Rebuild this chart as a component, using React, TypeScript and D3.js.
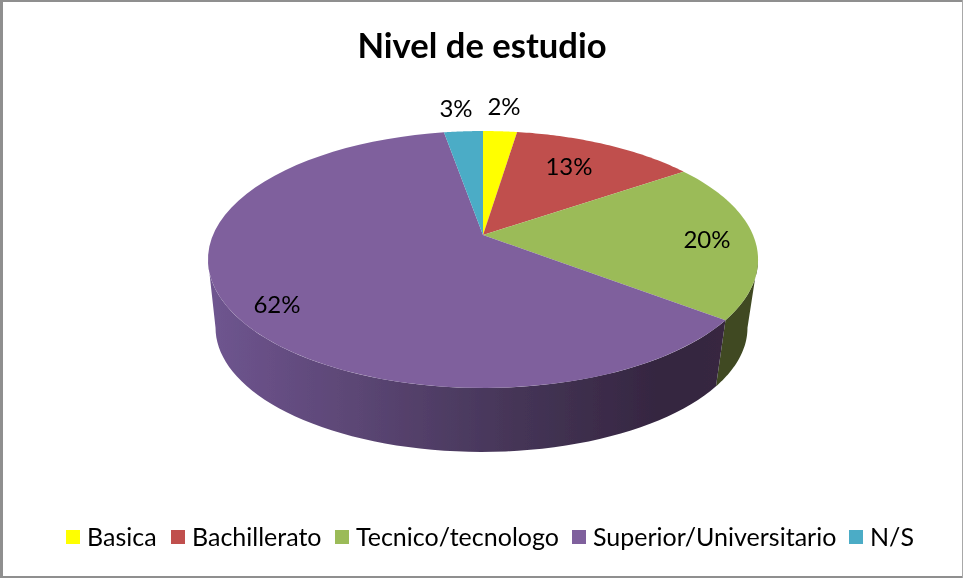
import React from "react";
import * as d3 from "d3";

const categories = ["Basica", "Bachillerato", "Tecnico/tecnologo", "Superior/Universitario", "N/S"];
const values = [2.4, 13, 20, 61.85, 2.75];
const colors = ["#ffff00", "#c0504d", "#9bbb59", "#7f619d", "#4bacc6"];
const sideColors = ["#666600", "#5a2523", "#3f4a22", "#5a4a70", "#1f5566"];
const title = "Nivel de estudio";
const legendX = [66, 171, 335, 572, 849];
const labelPos = [[504, 107], [569, 167], [707, 240], [277, 305], [456, 109]];

const W = 963, H = 578;
const FONT = "Lato, Carlito, 'Open Sans', sans-serif";
const p = 0.1907, a = 123.8, b = 270, cx = 483;

// Projects a point on the pie disc (angle clockwise from 12 o'clock) with perspective
const project = (ang: number, plane: "top" | "bottom"): [number, number] => {
  const X = Math.sin(ang), Y = Math.cos(ang), w = 1 + p * Y;
  const s = plane === "top" ? 1 : 0.967;
  const cy = plane === "top" ? 235 : 304;
  const x0 = plane === "top" ? cx : cx - 1.5;
  return [x0 + s * b * X / w, cy - s * a * Y / w];
};

const sample = (a0: number, a1: number, plane: "top" | "bottom") =>
  d3.range(0, 61).map(i => project(a0 + (a1 - a0) * i / 60, plane));

const line = d3.line();

export default function App() {
  const arcs = d3.pie<number>().sort(null)(values);
  const lo = Math.acos(-p), hi = 2 * Math.PI - lo;
  const apex = project(0, "top");
  apex[1] = 235;
  const pct = d3.format(".0f");
  return (
    <svg width={W} height={H} style={{ position: "absolute", left: 0, top: 0, display: "block" }}>
      <defs>
        <linearGradient id="wall" gradientUnits="userSpaceOnUse" x1={208} x2={720} y1={0} y2={0}>
          <stop offset="0" stopColor="#6f5590" />
          <stop offset="0.25" stopColor="#5e4878" />
          <stop offset="0.6" stopColor="#453557" />
          <stop offset="0.9" stopColor="#34253f" />
          <stop offset="1" stopColor="#37283f" />
        </linearGradient>
        <filter id="soft" x="0" y="0" width="100%" height="100%">
          <feGaussianBlur stdDeviation="0.5" />
        </filter>
      </defs>
      <rect x={0} y={0} width={W} height={H} fill="#ffffff" />
      <g filter="url(#soft)">
        <rect x={0} y={0} width={3} height={H} fill="#8f8f8f" />
        <rect x={0} y={0} width={W} height={2} fill="#8f8f8f" />
        <rect x={0} y={576} width={W} height={2} fill="#8f8f8f" />
        <rect x={962} y={0} width={1} height={H} fill="#a8a8a8" />
        <text x={482} y={58} textAnchor="middle" fontFamily={FONT} fontSize={34.6} fontWeight={700} fill="#000">{title}</text>
        {arcs.map((d, i) => {
          const s = Math.max(d.startAngle, lo), e = Math.min(d.endAngle, hi);
          if (e <= s) return null;
          const pts = [...sample(s, e, "top"), ...sample(e, s, "bottom")];
          return <path key={"w" + i} d={line(pts) + "Z"} fill={i === 3 ? "url(#wall)" : sideColors[i]} />;
        })}
        {arcs.map((d, i) => (
          <path key={"t" + i} d={line([apex, ...sample(d.startAngle, d.endAngle, "top")]) + "Z"} fill={colors[i]} />
        ))}
        {arcs.map((d, i) => (
          <text key={"l" + i} x={labelPos[i][0]} y={labelPos[i][1]} dy="0.35em" textAnchor="middle" fontFamily={FONT} fontSize={24} fill="#000">
            {pct(d.data) + "%"}
          </text>
        ))}
        {categories.map((c, i) => (
          <g key={c}>
            <rect x={legendX[i]} y={530} width={14} height={14} fill={colors[i]} />
            <text x={legendX[i] + 21} y={546} fontFamily={FONT} fontSize={25} fill="#000">{c}</text>
          </g>
        ))}
      </g>
    </svg>
  );
}
